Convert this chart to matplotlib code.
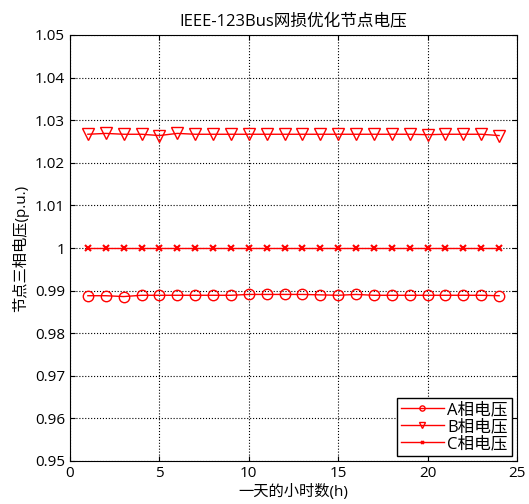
import numpy as np
import matplotlib
matplotlib.use('Agg')
import matplotlib.pyplot as plt

plt.rcParams['font.family'] = ['Open Sans', 'Noto Sans CJK SC', 'DejaVu Sans']

# hours and phase voltages
hours = list(range(1, 25))
va = [0.9888, 0.9888, 0.9886, 0.9889, 0.9889, 0.9889, 0.9889, 0.9889, 0.9889, 0.9891,
      0.9891, 0.9891, 0.9891, 0.9890, 0.9889, 0.9891, 0.9889, 0.9889, 0.9889, 0.9889,
      0.9889, 0.9889, 0.9889, 0.9888]
vb = [1.0267, 1.0269, 1.0267, 1.0267, 1.0264, 1.0269, 1.0267, 1.0267, 1.0267, 1.0267,
      1.0267, 1.0267, 1.0267, 1.0267, 1.0267, 1.0267, 1.0267, 1.0267, 1.0267, 1.0266,
      1.0267, 1.0267, 1.0267, 1.0264]
vc = [1.0] * 24

fig = plt.figure(figsize=(5.29, 5.04), dpi=100)
ax = fig.add_axes([70/529, 1-461/504, (517-70)/529, (461-35)/504])

ax.plot(hours, va, color='red', lw=1, marker='o', ms=7.5, mfc='none', mew=1, label='A相电压')
ax.plot(hours, vb, color='red', lw=1, marker='v', ms=8, mfc='none', mew=1, label='B相电压')
ax.plot(hours, vc, color='red', lw=1, marker='x', ms=4, mew=1.5, label='C相电压')

ax.set_xlim(0, 25)
ax.set_ylim(0.95, 1.05)
ax.set_xticks([0, 5, 10, 15, 20, 25])
ax.set_yticks(np.round(np.arange(0.95, 1.0501, 0.01), 2))
ax.set_yticklabels(['0.95', '0.96', '0.97', '0.98', '0.99', '1', '1.01', '1.02', '1.03', '1.04', '1.05'])
ax.tick_params(direction='in', labelsize=11, top=True, right=True)
ax.grid(True, color='black', ls=':', lw=0.8)

ax.set_title('IEEE-123Bus网损优化节点电压', fontsize=12)
ax.set_xlabel('一天的小时数(h)', fontsize=11, labelpad=2)
ax.set_ylabel('节点三相电压(p.u.)', fontsize=11, labelpad=4)

leg = ax.legend(loc='lower right', fontsize=12, fancybox=False, edgecolor='black',
                framealpha=1, handlelength=2.6, borderpad=0.25, labelspacing=0.05,
                handletextpad=0.2, borderaxespad=0.3, markerscale=0.5)
leg.get_frame().set_linewidth(1)

fig.savefig('out.png', dpi=100)
